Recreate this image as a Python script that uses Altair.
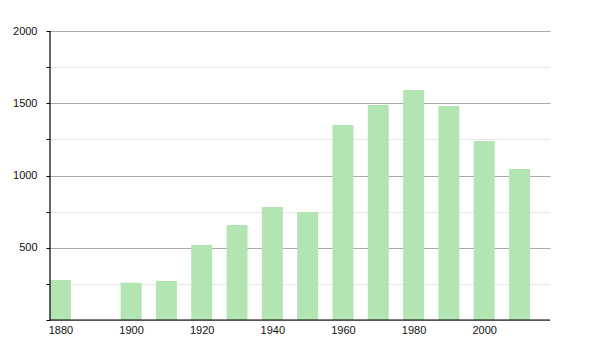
import altair as alt
import pandas as pd

years = [1880, 1900, 1910, 1920, 1930, 1940, 1950, 1960, 1970, 1980, 1990, 2000, 2010]
population = [277, 258, 270, 519, 657, 782, 747, 1349, 1488, 1592, 1481, 1239, 1045]

df = pd.DataFrame({"year": years, "pop": population})

x_ticks = [1880, 1900, 1920, 1940, 1960, 1980, 2000]
y_ticks = [0, 250, 500, 750, 1000, 1250, 1500, 1750, 2000]

bars = alt.Chart(df).mark_bar(color="#b3e5b3", size=21).encode(
    x=alt.X(
        "year:Q",
        scale=alt.Scale(domain=[1877.03, 2018.63], nice=False, zero=False, padding=0),
        axis=alt.Axis(
            title=None,
            values=x_ticks,
            format="d",
            ticks=False,
            grid=False,
            domain=False,
            labelFont="Liberation Sans",
            labelFontSize=11,
            labelColor="#111111",
            labelPadding=4,
            labelFlush=False,
        ),
    ),
    y=alt.Y(
        "pop:Q",
        scale=alt.Scale(domain=[0, 2000], nice=False),
        axis=alt.Axis(
            title=None,
            values=y_ticks,
            labelExpr="datum.value % 500 === 0 && datum.value > 0 ? datum.label : ''",
            format="d",
            tickSize=4,
            tickColor="#000000",
            domain=False,
            grid=True,
            gridColor={"condition": {"test": "datum.value % 500 === 0", "value": "#aaaaaa"}, "value": "#e6e6e6"},
            gridWidth=1,
            labelFont="Liberation Sans",
            labelFontSize=11,
            labelColor="#111111",
            labelPadding=9,
        ),
    ),
)

frame = pd.DataFrame({"k": [0]})
left_line = alt.Chart(frame).mark_rule(color="#000000", strokeWidth=1.2).encode(
    x=alt.value(0), y=alt.value(0), y2=alt.value(289)
)
bottom_line = alt.Chart(frame).mark_rule(color="#000000", strokeWidth=1.2).encode(
    x=alt.value(0), x2=alt.value(500), y=alt.value(289)
)

chart = alt.layer(bars, left_line, bottom_line).properties(
    width=500,
    height=289,
    autosize=alt.AutoSizeParams(type="none"),
    padding={"left": 50, "top": 31, "right": 50, "bottom": 30},
).configure_view(stroke=None)

chart.save("out.html", embed_options={"renderer": "svg", "actions": False})
